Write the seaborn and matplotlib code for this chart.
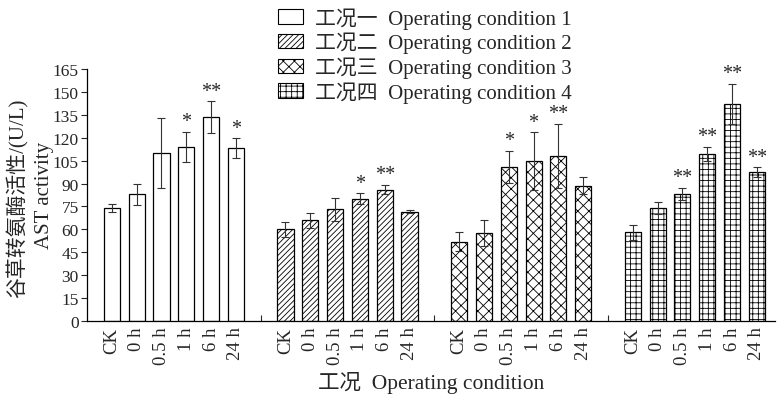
import numpy as np
import pandas as pd
import matplotlib
matplotlib.use("Agg")
import matplotlib.pyplot as plt
import matplotlib.patches as mpatches
import seaborn as sns

times = ["CK", "0 h", "0.5 h", "1 h", "6 h", "24 h"]
conditions = ["工况一  Operating condition 1", "工况二  Operating condition 2",
              "工况三  Operating condition 3", "工况四  Operating condition 4"]

vals1 = [74, 83, 110, 114, 133.5, 113]
errs1 = [2.6, 7, 23, 10, 10.3, 6.5]
sig1 = ["", "", "", "*", "**", "*"]

vals2 = [60, 66, 73, 80, 86, 71.5]
errs2 = [5, 5, 7.5, 3.5, 3, 1]
sig2 = ["", "", "", "*", "**", ""]

vals3 = [52, 57.5, 101, 104.5, 108, 88.5]
errs3 = [6.5, 8.5, 10.5, 19, 21, 5.5]
sig3 = ["", "", "*", "*", "**", ""]

vals4 = [58, 74, 83, 109.5, 142, 97.5]
errs4 = [5, 4, 4, 4.5, 13, 3]
sig4 = ["", "", "**", "**", "**", "**"]

hatches = ["", "//////", "xxx", "+++"]

rows = []
for g, (v, e, s) in enumerate([(vals1, errs1, sig1), (vals2, errs2, sig2),
                               (vals3, errs3, sig3), (vals4, errs4, sig4)]):
    for t in range(len(times)):
        rows.append({"cond": conditions[g], "time": times[t], "value": v[t],
                     "err": e[t], "sig": s[t], "pos": g * 7 + t + 1})
df = pd.DataFrame(rows)

sns.set_style("ticks")
serif = ["Liberation Serif", "Noto Sans CJK SC", "DejaVu Sans"]
plt.rcParams["font.family"] = serif
plt.rcParams["hatch.linewidth"] = 0.6

fig = plt.figure(figsize=(7.77, 4.02), dpi=100)
ax = fig.add_axes([0.112, 0.199, 0.886, 0.627])

sns.barplot(data=df, x="pos", y="value", hue="cond", native_scale=True,
            dodge=False, palette=["white"] * 4, edgecolor="black",
            linewidth=0.9, width=0.65, legend=False, errorbar=None, ax=ax)

for cont, h in zip(ax.containers, hatches):
    for bar in cont:
        bar.set_hatch(h)
        bar.set_edgecolor("black")

ax.errorbar(df["pos"], df["value"], yerr=df["err"], fmt="none",
            ecolor="#333333", elinewidth=0.8, capsize=3, capthick=0.8)

for _, r in df.iterrows():
    if r["sig"]:
        ax.text(r["pos"], r["value"] + r["err"] + 0.5, r["sig"], ha="center",
                va="bottom", fontsize=14.5, family=serif)

ax.set_xlim(0, 27.75)
ax.set_ylim(0, 165)
ax.set_yticks(np.arange(0, 166, 15))
ticks = list(range(1, 28))
labels = []
for p in ticks:
    labels.append("" if p % 7 == 0 else times[(p % 7) - 1])
ax.set_xticks(ticks)
ax.set_xticklabels(labels, rotation=90, fontsize=13.5)
ax.tick_params(axis="x", direction="in", length=4, width=0.8, pad=4)
ax.tick_params(axis="y", direction="out", length=4, width=0.8, labelsize=12.5, pad=2)
sns.despine(ax=ax)
for sp in ["left", "bottom"]:
    ax.spines[sp].set_linewidth(0.9)
    ax.spines[sp].set_color("black")

ax.set_xlabel("工况  Operating condition", fontsize=15.5, labelpad=5)
ax.set_ylabel("")

# two-line y label, placed as separate lines so they do not overlap
fig.text(0.023, 0.507, "谷草转氨酶活性/(U/L)", rotation=90, ha="center",
         va="center", fontsize=15, family=serif)
fig.text(0.057, 0.515, "AST activity", rotation=90, ha="center",
         va="center", fontsize=15, family=serif)

handles = [mpatches.Patch(facecolor="white", edgecolor="black", hatch=h,
                          linewidth=0.8) for h in hatches]
fig.legend(handles, conditions, loc="upper left",
           bbox_to_anchor=(0.347, 1.0), frameon=False, fontsize=15,
           handlelength=1.2, handleheight=0.7, handletextpad=0.6,
           labelspacing=0.15, borderaxespad=0)

fig.savefig("out.png", dpi=100)
